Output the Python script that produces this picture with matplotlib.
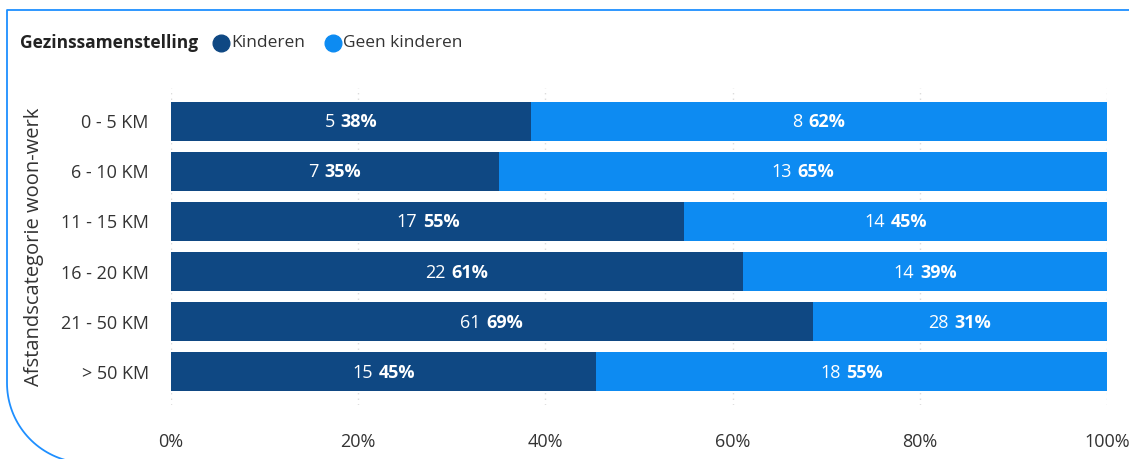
import numpy as np
import matplotlib
matplotlib.use("Agg")
import matplotlib.pyplot as plt
from matplotlib.lines import Line2D
from matplotlib.ticker import FuncFormatter

plt.rcParams['font.family'] = ['Open Sans', 'DejaVu Sans']

# Afstandscategorieën en aantallen per gezinssituatie
categorieen = ['0 - 5 KM', '6 - 10 KM', '11 - 15 KM', '16 - 20 KM', '21 - 50 KM', '> 50 KM']
kinderen = [5, 7, 17, 22, 61, 15]
geen_kinderen = [8, 13, 14, 14, 28, 18]
reeksen = ['Kinderen', 'Geen kinderen']
kleuren = ['#0F4883', '#0D8BF2']
x_ticks = [0, 20, 40, 60, 80, 100]

W, H = 1129, 459
fig = plt.figure(figsize=(W / 100, H / 100), dpi=100)
ax = fig.add_axes([171 / W, 1 - 405 / H, (1107 - 171) / W, (405 - 88) / H])

k = np.array(kinderen, dtype=float)
g = np.array(geen_kinderen, dtype=float)
tot = k + g
pk = k / tot * 100
pg = g / tot * 100
y = np.arange(len(categorieen))

for xt in x_ticks:
    ax.axvline(xt, color='#dcdcdc', lw=1, ls=(0, (1, 3)), zorder=0)

ax.barh(y, pk, height=0.78, color=kleuren[0], zorder=2)
ax.barh(y, pg, left=pk, height=0.78, color=kleuren[1], zorder=2)

ax.set_xlim(0, 100)
ax.set_ylim(len(categorieen) - 0.34, -0.66)
ax.set_yticks(y)
ax.set_yticklabels(categorieen)
ax.set_xticks(x_ticks)
ax.xaxis.set_major_formatter(FuncFormatter(lambda v, p: f'{v:.0f}%'))
ax.tick_params(axis='both', length=0, labelsize=13, colors='#333333')
ax.tick_params(axis='x', pad=20)
ax.tick_params(axis='y', pad=16)
for s in ax.spines.values():
    s.set_visible(False)

ax.set_ylabel('Afstandscategorie woon-werk', fontsize=14.5, color='#333333', labelpad=12)

# waardelabels: aantal normaal, percentage vet, samen gecentreerd in het segment
renderer = fig.canvas.get_renderer()
def breedte(tekst, gewicht):
    t = ax.text(0, 0, tekst, fontsize=13, fontweight=gewicht)
    w = t.get_window_extent(renderer).width
    t.remove()
    return w

gap = 6
for i in range(len(categorieen)):
    for n, p, start in [(k[i], pk[i], 0), (g[i], pg[i], pk[i])]:
        s1 = f'{n:.0f}'
        s2 = f'{p:.0f}%'
        w1 = breedte(s1, 'normal')
        w2 = breedte(s2, 'bold')
        links = -(w1 + gap + w2) / 2
        c = start + p / 2
        ax.annotate(s1, (c, i), xytext=(links, -1), textcoords='offset pixels',
                    ha='left', va='center', fontsize=13, color='white', zorder=3)
        ax.annotate(s2, (c, i), xytext=(links + w1 + gap, -1), textcoords='offset pixels',
                    ha='left', va='center', fontsize=13, fontweight='bold', color='white', zorder=3)

# legenda bovenaan
fig.text(20 / W, 1 - 43 / H, 'Gezinssamenstelling', fontsize=12.5, fontweight='bold',
         color='#222222', va='center')
for naam, kleur, xm in zip(reeksen, kleuren, [221, 333]):
    fig.add_artist(Line2D([xm / W], [1 - 43 / H], marker='o', markersize=12,
                          color=kleur, transform=fig.transFigure))
    fig.text((xm + 10) / W, 1 - 43 / H, naam, fontsize=12.5, color='#333333', va='center')

# kader met afgeronde hoek linksonder
r = 80
hoek = np.linspace(np.pi, 1.5 * np.pi, 40)
bx = np.concatenate([[W + 5, 7, 7], 7 + r + r * np.cos(hoek)])
by = np.concatenate([[10, 10, 383], 383 - r * np.sin(hoek)])
fig.add_artist(Line2D(bx / W, 1 - by / H, color='#1E8FFF', lw=1.3, transform=fig.transFigure))

fig.savefig('out.png', dpi=100)
